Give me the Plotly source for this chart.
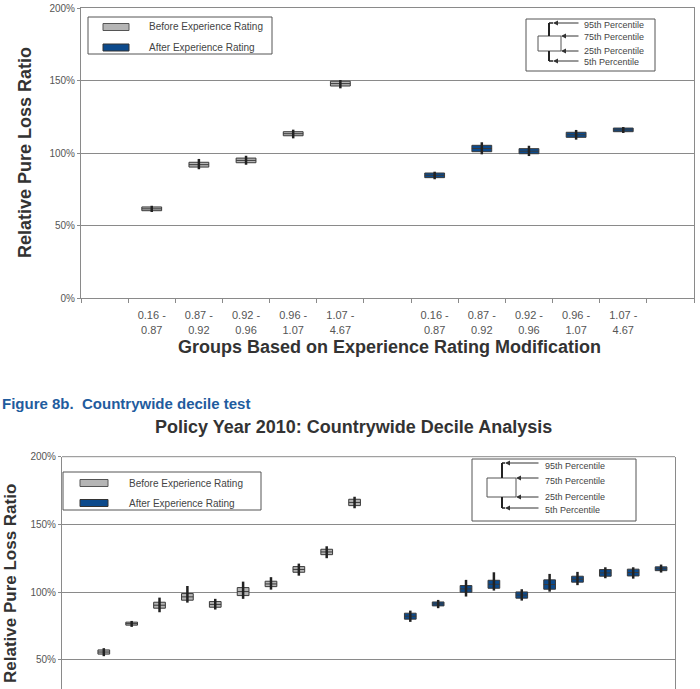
import plotly.graph_objects as go

# ---------------- data ----------------
quintile_labels = ["0.16 -<br>0.87", "0.87 -<br>0.92", "0.92 -<br>0.96", "0.96 -<br>1.07", "1.07 -<br>4.67"]
quint_before_pos = [1, 2, 3, 4, 5]
quint_after_pos = [7, 8, 9, 10, 11]

qb_p5 = [59.3, 88.8, 91.9, 110.1, 144.6]
qb_p25 = [60.2, 90.3, 93.3, 111.9, 146.2]
qb_p75 = [62.8, 93.6, 96.5, 114.7, 149.5]
qb_p95 = [63.6, 95.9, 98.1, 116.1, 150.3]

qa_p5 = [81.9, 99.1, 97.9, 109.2, 113.8]
qa_p25 = [83.0, 100.9, 99.5, 110.8, 114.7]
qa_p75 = [86.2, 105.3, 103.0, 114.3, 117.2]
qa_p95 = [87.1, 107.4, 105.0, 115.9, 117.9]

dec_before_pos = [1, 2, 3, 4, 5, 6, 7, 8, 9, 10]
dec_after_pos = [12, 13, 14, 15, 16, 17, 18, 19, 20, 21]

db_p5 = [52.8, 74.4, 85.2, 92.3, 87.2, 95.1, 101.9, 112.2, 125.1, 161.9]
db_p25 = [54.3, 75.7, 88.2, 94.1, 88.9, 97.5, 104.1, 114.7, 127.7, 163.9]
db_p75 = [57.4, 77.9, 92.6, 99.0, 93.1, 103.4, 108.1, 118.9, 131.7, 168.6]
db_p95 = [58.7, 78.8, 96.0, 104.6, 95.1, 107.8, 111.1, 121.1, 133.9, 170.5]

da_p5 = [78.1, 88.2, 96.8, 101.2, 93.8, 100.4, 105.2, 110.3, 110.0, 114.5]
da_p25 = [80.1, 89.9, 100.0, 102.9, 95.6, 102.2, 107.4, 111.8, 112.0, 115.9]
da_p75 = [84.5, 92.8, 104.9, 108.8, 100.2, 109.1, 111.8, 116.7, 117.0, 118.7]
da_p95 = [86.4, 94.3, 109.1, 114.7, 102.2, 113.5, 115.0, 118.4, 118.4, 120.4]

y_ticks = [0, 50, 100, 150, 200]
y_ticktext = ["0%", "50%", "100%", "150%", "200%"]

# ---------------- style ----------------
W, H = 700, 689
GRAY_FILL = "#b5b5b5"
BLUE_FILL = "#0c4a8c"
BOX_LINE = "#3a3a3a"
WHISK = "#222222"
GRID = "#8a8a8a"
TXT = "#333333"
TICK_TXT = "#555555"
FONT = "Liberation Sans, Arial, sans-serif"


def px(x):
    return x / W


def py(y):
    return 1 - y / H


fig = go.Figure()


def add_boxes(pos, p5, p25, p75, p95, fill, xa, ya):
    med = [(a + b) / 2 for a, b in zip(p25, p75)]
    fig.add_trace(go.Box(
        x=pos, q1=p25, median=med, q3=p75, lowerfence=p25, upperfence=p75,
        width=0.42, fillcolor=fill, line=dict(color=BOX_LINE, width=1),
        whiskerwidth=0, boxpoints=False, showlegend=False, xaxis=xa, yaxis=ya,
        hoverinfo="skip"))
    wx, wy = [], []
    for x, lo, hi in zip(pos, p5, p95):
        wx += [x, x, None]
        wy += [lo, hi, None]
    fig.add_trace(go.Scatter(x=wx, y=wy, mode="lines", line=dict(color=WHISK, width=2.5),
                             showlegend=False, xaxis=xa, yaxis=ya, hoverinfo="skip"))


add_boxes(quint_before_pos, qb_p5, qb_p25, qb_p75, qb_p95, GRAY_FILL, "x", "y")
add_boxes(quint_after_pos, qa_p5, qa_p25, qa_p75, qa_p95, BLUE_FILL, "x", "y")
add_boxes(dec_before_pos, db_p5, db_p25, db_p75, db_p95, GRAY_FILL, "x2", "y2")
add_boxes(dec_after_pos, da_p5, da_p25, da_p75, da_p95, BLUE_FILL, "x2", "y2")

# bottom panel: 0% would sit at pixel 727.7, below the visible window
y0_px, y200_px = 727.7, 456.7
ybot = 200 - 200 * (H - y200_px) / (y0_px - y200_px)

fig.update_layout(
    width=W, height=H,
    margin=dict(l=0, r=0, t=0, b=0),
    paper_bgcolor="white", plot_bgcolor="white",
    boxmode="overlay",
    font=dict(family=FONT, color=TICK_TXT, size=10),
    xaxis=dict(domain=[px(81), px(694)], range=[-0.5, 12.5],
               tickvals=quint_before_pos + quint_after_pos,
               ticktext=quintile_labels + quintile_labels,
               ticks="outside", ticklen=7, tickcolor="rgba(0,0,0,0)",
               showgrid=False, zeroline=False,
               showline=True, linecolor=GRID, linewidth=1, mirror=True,
               tickfont=dict(size=11, color=TICK_TXT),
               minor=dict(tick0=-0.5, dtick=1, ticks="outside", ticklen=4,
                          tickcolor=GRID, showgrid=False),
               automargin=False, fixedrange=True),
    yaxis=dict(domain=[py(298), py(8)], range=[0, 200],
               tickvals=y_ticks, ticktext=y_ticktext,
               ticks="outside", ticklen=3, tickcolor=GRID,
               showgrid=True, gridcolor=GRID, gridwidth=1, zeroline=False,
               showline=True, linecolor=GRID, linewidth=1, mirror=True,
               tickfont=dict(size=10, color=TICK_TXT), automargin=False),
    xaxis2=dict(domain=[px(62), px(675)], range=[-0.5, 21.5], anchor="y2",
                showticklabels=False, ticks="", showgrid=False, zeroline=False,
                showline=False, automargin=False),
    yaxis2=dict(domain=[0, py(y200_px)], range=[ybot, 200], anchor="x2",
                tickvals=y_ticks, ticktext=y_ticktext,
                ticks="outside", ticklen=3, tickcolor=GRID,
                showgrid=True, gridcolor=GRID, gridwidth=1, zeroline=False,
                showline=True, linecolor=GRID, linewidth=1, mirror=True,
                tickfont=dict(size=10, color=TICK_TXT), automargin=False),
)

shapes = []
annotations = []

# top border for bottom panel
shapes.append(dict(type="line", xref="x2 domain", yref="y2 domain", x0=0, x1=1, y0=1, y1=1,
                   line=dict(color=GRID, width=1)))


def rect(x0, y0, x1, y1, fill="rgba(0,0,0,0)", line="#555555", lw=1):
    shapes.append(dict(type="rect", xref="paper", yref="paper",
                       x0=px(x0), x1=px(x1), y0=py(y1), y1=py(y0),
                       fillcolor=fill, line=dict(color=line, width=lw), layer="above"))


def line(x0, y0, x1, y1, color="#333333", lw=1):
    shapes.append(dict(type="line", xref="paper", yref="paper",
                       x0=px(x0), x1=px(x1), y0=py(y0), y1=py(y1),
                       line=dict(color=color, width=lw), layer="above"))


def text(x, y, s, size=10, color="#444444", xanchor="left", bold=False, family=FONT, angle=0):
    annotations.append(dict(xref="paper", yref="paper", x=px(x), y=py(y), text=s,
                            showarrow=False, xanchor=xanchor, yanchor="middle",
                            textangle=angle,
                            font=dict(size=size, color=color, family=family,
                                      weight="bold" if bold else "normal")))


def arrow(xtip, y, xtail):
    annotations.append(dict(xref="paper", yref="paper", x=px(xtip), y=py(y), text="",
                            showarrow=True, arrowhead=2, arrowsize=1, arrowwidth=1,
                            arrowcolor="#333333", ax=xtail - xtip, ay=0))


def series_legend(bx0, by0, bx1, by1, sx0, sx1, gy, by, tx):
    rect(bx0, by0, bx1, by1, fill="white", line="#555555")
    rect(sx0, gy - 3.5, sx1, gy + 3.5, fill=GRAY_FILL, line="#555555")
    rect(sx0, by - 3.5, sx1, by + 3.5, fill=BLUE_FILL, line="#333333")
    text(tx, gy, "Before Experience Rating")
    text(tx, by, "After Experience Rating")


def pct_legend(bx0, by0, bx1, by1, dx0, dx1, dy0, dy1, wx, wy0, wy1, hook, lend, ys, tx, tys):
    rect(bx0, by0, bx1, by1, fill="white", line="#555555")
    rect(dx0, dy0, dx1, dy1, fill="white", line="#555555")
    line(wx, wy0, wx, dy0, color="#222222", lw=2)
    line(wx, dy1, wx, wy1, color="#222222", lw=2)
    line(wx, wy0, hook, wy0, color="#222222", lw=1.5)
    line(wx, wy1, hook, wy1, color="#222222", lw=1.5)
    tips = [hook, dx1, dx1, hook]
    for t, yy in zip(tips, ys):
        arrow(t, yy, lend)
    for s, yy in zip(["95th Percentile", "75th Percentile", "25th Percentile", "5th Percentile"], tys):
        text(tx, yy, s, size=9)


# top panel legends
series_legend(88, 17, 272, 54, 103, 129, 27, 47.5, 147)
pct_legend(526, 19, 655, 71, 538, 561, 36, 51, 549, 23, 61, 553, 580,
           [23, 36, 51, 61], 582, [25, 37, 50.5, 62])

# bottom panel legends
series_legend(63, 472, 261, 510, 80, 108, 483, 503, 127)
pct_legend(472, 459, 636, 521, 487, 516, 478, 497, 502, 463, 508, 505, 540,
           [463, 478, 497, 508], 543, [466, 481, 497, 510])

# titles
text(25, 153, "Relative Pure Loss Ratio", size=18, color=TXT, xanchor="center", bold=True, angle=-90)
text(389, 347, "Groups Based on Experience Rating Modification", size=18, color=TXT,
     xanchor="center", bold=True)
text(0, 404, "Figure 8b.  Countrywide decile test", size=15, color="#1f5c9e", bold=True)
text(354, 427, "Policy Year 2010: Countrywide Decile Analysis", size=18, color=TXT,
     xanchor="center", bold=True)
text(10, 584, "Relative Pure Loss Ratio", size=17, color=TXT, xanchor="center", bold=True, angle=-90)

fig.update_layout(shapes=shapes, annotations=annotations)
fig.write_html("out.html")
